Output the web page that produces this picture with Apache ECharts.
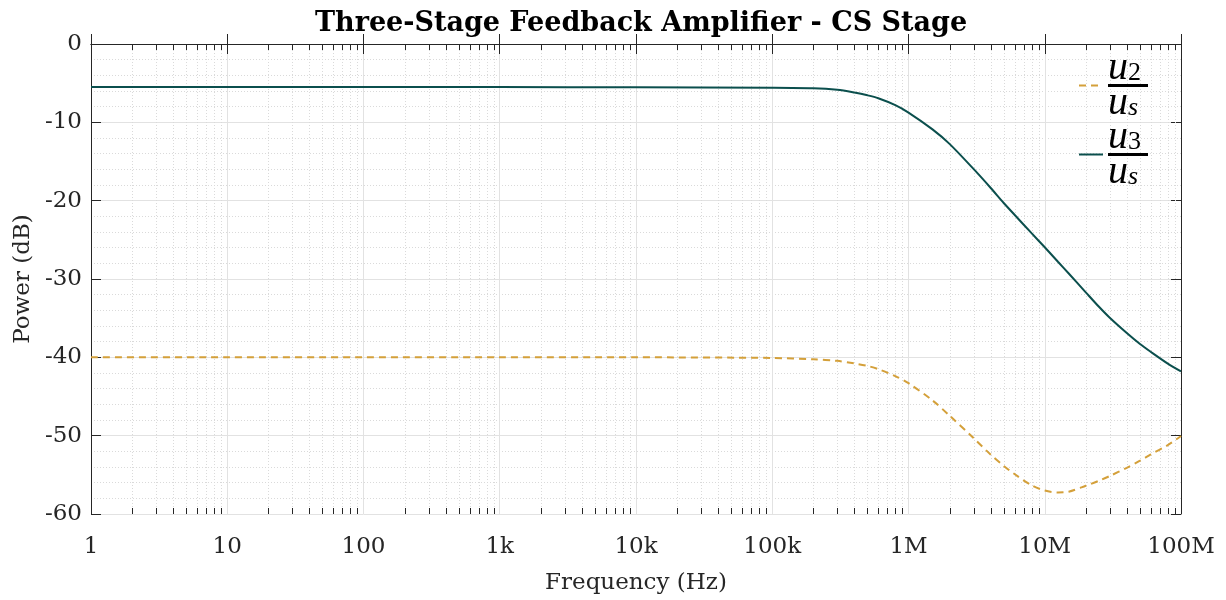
<!DOCTYPE html>
<html>
<head>
<meta charset="utf-8">
<script src="https://cdn.jsdelivr.net/npm/echarts@6/dist/echarts.min.js"></script>
<style>
  html, body { margin: 0; padding: 0; background: #ffffff; }
  #chart { width: 1226px; height: 600px; }
</style>
</head>
<body>
<div id="chart"></div>
<script>
// Frequency points (Hz) of the sweep
const freqHz = [1, 10, 100, 1000, 10000, 100000, 200000, 300000, 400000, 500000, 600000, 800000,
  1e6, 1.5e6, 2e6, 3e6, 4e6, 5e6, 6e6, 8e6, 1e7, 1.25e7, 1.5e7, 2e7, 2.5e7, 3e7, 4e7, 5e7, 6e7, 8e7, 1e8];

// u2/us transfer (dB)
const gainU2 = [-40, -40, -40, -40, -40, -40.08, -40.25, -40.45, -40.78, -41.1, -41.5, -42.4,
  -43.3, -45.5, -47.44, -50.3, -52.4, -53.86, -54.9, -56.33, -57.0, -57.25, -57.15, -56.4, -55.76, -55.15, -54.1, -53.2, -52.4, -51.2, -50.05];

// u3/us transfer (dB)
const gainU3 = [-5.5, -5.5, -5.5, -5.5, -5.52, -5.58, -5.65, -5.85, -6.2, -6.55, -6.92, -7.8,
  -8.75, -10.9, -12.75, -15.95, -18.35, -20.3, -21.8, -24.15, -25.95, -27.8, -29.3, -31.7, -33.55, -34.95, -36.9, -38.3, -39.3, -40.8, -41.8];

// Decade tick labels, 10^0 .. 10^8
const xTickLabels = ['1', '10', '100', '1k', '10k', '100k', '1M', '10M', '100M'];

// Minor log positions (2..9 x 10^k) for the dotted grid and the short ticks
const minorFreqs = [];
for (let k = 0; k < 8; k++) {
  for (let m = 2; m <= 9; m++) minorFreqs.push(m * Math.pow(10, k));
}

const FONT = 'DejaVu Serif';
const MATH = 'Liberation Serif';
const TEXT = '#262626';
const AXIS = '#262626';

const chart = echarts.init(document.getElementById('chart'), null, { renderer: 'canvas' });

const yBase = {
  type: 'value', min: -60, max: 0, interval: 10,
  axisLine: { show: true, lineStyle: { color: AXIS, width: 1 } },
  axisTick: { show: true, inside: true, length: 10, lineStyle: { color: AXIS } }
};

chart.setOption({
  animation: false,
  backgroundColor: '#ffffff',
  title: {
    text: 'Three-Stage Feedback Amplifier - CS Stage',
    left: 636, top: 5, textAlign: 'center',
    textStyle: { fontFamily: FONT, fontWeight: 'bold', fontSize: 27, color: '#000000' }
  },
  grid: { left: 91, right: 45, top: 44, bottom: 83, containLabel: false },
  legend: {
    orient: 'vertical',
    left: 1073, top: 43,
    itemWidth: 24, itemHeight: 14, itemGap: -6,
    data: ['u2', 'u3'],
    itemStyle: { color: 'rgba(0,0,0,0)', borderWidth: 0, opacity: 0 },
    formatter: function (name) {
      return '{n|u}{sub|' + name.slice(1) + '}\n{bar| }\n{n|u}{subi|s}';
    },
    textStyle: {
      fontFamily: MATH,
      rich: {
        n: { fontFamily: MATH, fontStyle: 'italic', fontSize: 40, lineHeight: 30, color: '#000' },
        sub: { fontFamily: MATH, fontSize: 26, lineHeight: 20, height: 20, verticalAlign: 'bottom', color: '#000' },
        subi: { fontFamily: MATH, fontStyle: 'italic', fontSize: 26, lineHeight: 20, height: 20, verticalAlign: 'bottom', color: '#000' },
        bar: { width: 40, height: 3, lineHeight: 5, backgroundColor: '#000', fontSize: 2 }
      }
    }
  },
  xAxis: [
    {
      type: 'log', logBase: 10, min: 1, max: 1e8, splitNumber: 8,
      position: 'bottom',
      name: 'Frequency (Hz)', nameLocation: 'middle', nameGap: 58,
      nameTextStyle: { fontFamily: FONT, fontSize: 23, color: TEXT },
      axisLine: { show: true, lineStyle: { color: AXIS, width: 1 } },
      axisTick: { show: true, inside: true, length: 10, lineStyle: { color: AXIS } },
      axisLabel: {
        fontFamily: FONT, fontSize: 23, color: TEXT, margin: 22,
        formatter: function (v) { return xTickLabels[Math.round(Math.log10(v))]; }
      },
      splitLine: { show: true, lineStyle: { color: '#e2e2e2', width: 1 } }
    },
    {
      type: 'log', logBase: 10, min: 1, max: 1e8, splitNumber: 8,
      position: 'top',
      axisLine: { show: true, lineStyle: { color: AXIS, width: 1 } },
      axisTick: { show: true, inside: true, length: 10, lineStyle: { color: AXIS } },
      axisLabel: { show: false },
      splitLine: { show: false }
    }
  ],
  yAxis: [
    Object.assign({}, yBase, {
      position: 'left',
      name: 'Power (dB)', nameLocation: 'middle', nameGap: 50,
      nameTextStyle: { fontFamily: FONT, fontSize: 23, color: TEXT },
      axisLabel: { fontFamily: FONT, fontSize: 23, color: TEXT, margin: 9 },
      splitLine: { show: true, lineStyle: { color: '#e2e2e2', width: 1 } },
      minorTick: { show: false, splitNumber: 5 },
      minorSplitLine: { show: true, lineStyle: { color: '#dadada', width: 1, type: [1, 2] } }
    }),
    Object.assign({}, yBase, {
      position: 'right',
      axisLabel: { show: false },
      splitLine: { show: false }
    })
  ],
  series: [
    {
      name: 'minor',
      type: 'custom',
      xAxisIndex: 0, yAxisIndex: 0,
      silent: true, z: 1,
      encode: { x: 0, y: 1 },
      data: minorFreqs.map(function (f) { return [f, -60]; }),
      renderItem: function (params, api) {
        const f = api.value(0);
        const top = api.coord([f, 0]);
        const bot = api.coord([f, -60]);
        const x = Math.round(top[0]) + 0.5;
        return {
          type: 'group',
          children: [
            { type: 'line', shape: { x1: x, y1: top[1], x2: x, y2: bot[1] },
              style: { stroke: '#dadada', lineWidth: 1, lineDash: [1, 2] } },
            { type: 'line', shape: { x1: x, y1: bot[1], x2: x, y2: bot[1] - 6 },
              style: { stroke: AXIS, lineWidth: 1 } },
            { type: 'line', shape: { x1: x, y1: top[1], x2: x, y2: top[1] + 6 },
              style: { stroke: AXIS, lineWidth: 1 } }
          ]
        };
      }
    },
    {
      name: 'u2',
      type: 'line',
      xAxisIndex: 0, yAxisIndex: 0,
      data: freqHz.map(function (f, i) { return [f, gainU2[i]]; }),
      showSymbol: false, symbol: 'none',
      smooth: 0.3,
      z: 3,
      lineStyle: { color: '#d4a03a', width: 2, type: [7, 5] },
      itemStyle: { color: '#d4a03a' }
    },
    {
      name: 'u3',
      type: 'line',
      xAxisIndex: 0, yAxisIndex: 0,
      data: freqHz.map(function (f, i) { return [f, gainU3[i]]; }),
      showSymbol: false, symbol: 'none',
      smooth: 0.3,
      z: 4,
      lineStyle: { color: '#0b4f4d', width: 2 },
      itemStyle: { color: '#0b4f4d' }
    }
  ]
});
</script>
</body>
</html>
